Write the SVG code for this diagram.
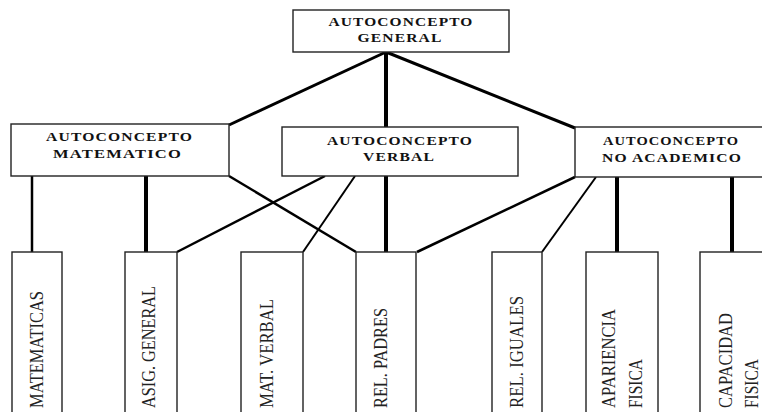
<svg xmlns="http://www.w3.org/2000/svg" width="762" height="412" viewBox="0 0 762 412">
  <style>
    .box { fill: #ffffff; stroke: #222222; stroke-width: 1.4; }
    .head { font-family: "Liberation Serif", "Times New Roman", serif; font-weight: bold; font-size: 13.5px; letter-spacing: 1px; fill: #111111; text-anchor: middle; }
    .leaf { font-family: "Liberation Serif", "Times New Roman", serif; font-size: 18px; fill: #222222; }
    .ln { stroke: #000000; fill: none; stroke-linecap: butt; }
  </style>
  <rect width="762" height="412" fill="#ffffff"/>

  <!-- connectors -->
  <g id="connectors">
    <line class="ln" x1="386" y1="52" x2="229" y2="125" stroke-width="3"/>
    <line class="ln" x1="386" y1="52" x2="386" y2="127" stroke-width="4"/>
    <line class="ln" x1="386" y1="52" x2="575" y2="128" stroke-width="3"/>

    <line class="ln" x1="32" y1="176" x2="32" y2="252" stroke-width="2.5"/>
    <line class="ln" x1="146" y1="176" x2="146" y2="252" stroke-width="4"/>
    <line class="ln" x1="229" y1="176" x2="356" y2="252" stroke-width="2.5"/>

    <line class="ln" x1="325" y1="176" x2="177" y2="252" stroke-width="2.5"/>
    <line class="ln" x1="355" y1="176" x2="303" y2="252" stroke-width="2"/>
    <line class="ln" x1="386" y1="176" x2="386" y2="252" stroke-width="4"/>

    <line class="ln" x1="575" y1="177" x2="417" y2="252" stroke-width="2.5"/>
    <line class="ln" x1="596" y1="177" x2="542" y2="252" stroke-width="2"/>
    <line class="ln" x1="617" y1="177" x2="617" y2="252" stroke-width="4"/>
    <line class="ln" x1="732" y1="177" x2="732" y2="252" stroke-width="4"/>
  </g>

  <!-- top level -->
  <g id="general">
    <rect class="box" x="293" y="10" width="216" height="42"/>
    <text class="head" x="401" y="26" textLength="145" lengthAdjust="spacingAndGlyphs">AUTOCONCEPTO</text>
    <text class="head" x="400" y="42" textLength="85" lengthAdjust="spacingAndGlyphs">GENERAL</text>
  </g>

  <!-- second level -->
  <g id="matematico">
    <rect class="box" x="11" y="124" width="218" height="52"/>
    <text class="head" x="119.5" y="141" textLength="147" lengthAdjust="spacingAndGlyphs">AUTOCONCEPTO</text>
    <text class="head" x="117.5" y="157.5" textLength="129" lengthAdjust="spacingAndGlyphs">MATEMATICO</text>
  </g>
  <g id="verbal">
    <rect class="box" x="282" y="127" width="236" height="49"/>
    <text class="head" x="400" y="144.5" textLength="146" lengthAdjust="spacingAndGlyphs">AUTOCONCEPTO</text>
    <text class="head" x="399" y="161" textLength="72" lengthAdjust="spacingAndGlyphs">VERBAL</text>
  </g>
  <g id="no-academico">
    <rect class="box" x="575" y="127" width="200" height="50"/>
    <text class="head" x="671" y="144.5" textLength="136" lengthAdjust="spacingAndGlyphs">AUTOCONCEPTO</text>
    <text class="head" x="672" y="161.5" textLength="140" lengthAdjust="spacingAndGlyphs">NO ACADEMICO</text>
  </g>

  <!-- third level -->
  <g id="matematicas">
    <rect class="box" x="12" y="252" width="50" height="170"/>
    <text class="leaf" transform="translate(43,408) rotate(-90)" textLength="117" lengthAdjust="spacingAndGlyphs">MATEMATICAS</text>
  </g>
  <g id="asig-general">
    <rect class="box" x="125" y="252" width="52" height="170"/>
    <text class="leaf" transform="translate(155,408) rotate(-90)" textLength="122" lengthAdjust="spacingAndGlyphs">ASIG. GENERAL</text>
  </g>
  <g id="mat-verbal">
    <rect class="box" x="241" y="252" width="62" height="170"/>
    <text class="leaf" transform="translate(273,408) rotate(-90)" textLength="109" lengthAdjust="spacingAndGlyphs">MAT. VERBAL</text>
  </g>
  <g id="rel-padres">
    <rect class="box" x="356" y="252" width="60" height="170"/>
    <text class="leaf" transform="translate(387,408) rotate(-90)" textLength="100" lengthAdjust="spacingAndGlyphs">REL. PADRES</text>
  </g>
  <g id="rel-iguales">
    <rect class="box" x="492" y="252" width="50" height="170"/>
    <text class="leaf" transform="translate(523,408) rotate(-90)" textLength="112" lengthAdjust="spacingAndGlyphs">REL. IGUALES</text>
  </g>
  <g id="apariencia-fisica">
    <rect class="box" x="586" y="252" width="72" height="170"/>
    <text class="leaf" transform="translate(615,408) rotate(-90)" textLength="99" lengthAdjust="spacingAndGlyphs">APARIENCIA</text>
    <text class="leaf" transform="translate(642,408) rotate(-90)" textLength="49" lengthAdjust="spacingAndGlyphs">FISICA</text>
  </g>
  <g id="capacidad-fisica">
    <rect class="box" x="700" y="252" width="70" height="170"/>
    <text class="leaf" transform="translate(732,408) rotate(-90)" textLength="95" lengthAdjust="spacingAndGlyphs">CAPACIDAD</text>
    <text class="leaf" transform="translate(758,408) rotate(-90)" textLength="49" lengthAdjust="spacingAndGlyphs">FISICA</text>
  </g>
</svg>
